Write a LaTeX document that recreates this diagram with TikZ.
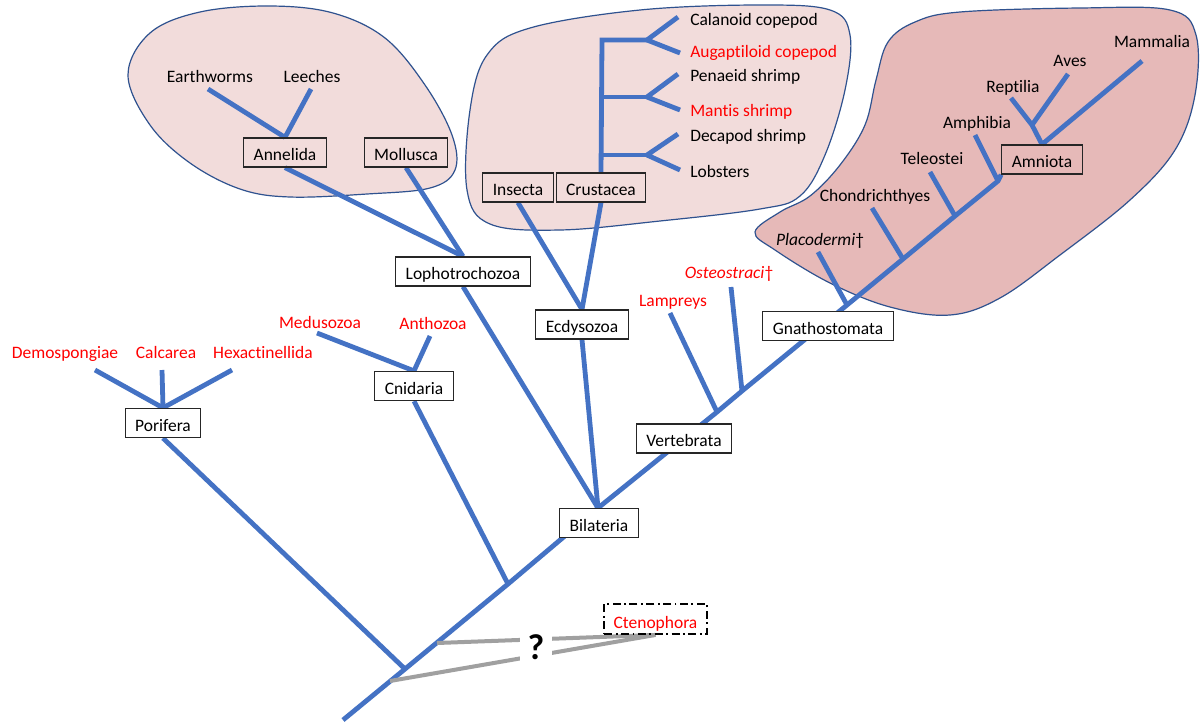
\documentclass[tikz,border=0pt]{standalone}
\usepackage{fontspec}
\setmainfont{Carlito}[Ligatures=NoCommon]
\definecolor{branch}{HTML}{4472C4}
\definecolor{grayline}{HTML}{A0A0A0}
\definecolor{pinklight}{HTML}{F2DCDB}
\definecolor{pinkdark}{HTML}{E6B9B8}
\definecolor{blobline}{HTML}{2F528F}
\definecolor{labred}{HTML}{FF0000}
\pgfdeclarelayer{blobs}
\pgfdeclarelayer{branches}
\pgfsetlayers{blobs,branches,main}
\begin{document}
\begin{tikzpicture}[x=0.75pt,y=-0.75pt,
  every node/.style={font=\fontsize{13.1pt}{15pt}\selectfont},
  br/.style={draw=branch,line width=3.6pt,line join=round},
  gl/.style={draw=grayline,line width=3pt},
  blob/.style={draw=blobline,line width=0.9pt},
  taxon/.style={draw=black!85,line width=0.9pt,inner xsep=7.5pt,inner ysep=0pt,text height=16.9pt,text depth=4.9pt},
  wtaxon/.style={taxon,fill=white},
  lab/.style={anchor=base,inner sep=0pt},
  rlab/.style={lab,text=labred},
  wlab/.style={anchor=base west,inner sep=0pt},
  ctenobox/.style={draw=black,line width=1.4pt,dash pattern=on 6pt off 2.6pt on 1.4pt off 2.6pt,inner xsep=7pt,inner ysep=0pt,text height=18pt,text depth=4.5pt,text=labred},
]
\begin{pgfonlayer}{blobs}
\fill[white] (0,0) rectangle (1200,722);
\end{pgfonlayer}
\useasboundingbox (0,0) rectangle (1200,722);

% ---------- blobs ----------
\begin{pgfonlayer}{blobs}
\draw[blob,fill=pinklight] plot[smooth cycle,tension=0.6] coordinates {
 (128,75) (150,33) (200,12) (270,6) (333,13) (385,38) (425,85) (452,135)
 (455,170) (430,188) (367,194) (290,197) (240,189) (190,163) (150,125)};
\draw[blob,fill=pinklight] plot[smooth cycle,tension=0.6] coordinates {
 (467,190) (470,110) (487,55) (530,28) (640,10) (760,5) (830,10) (850,35)
 (845,90) (825,155) (800,196) (760,209) (660,221) (560,230) (490,224)};
\draw[blob,fill=pinkdark] plot[smooth cycle,tension=0.6] coordinates {
 (755,232) (780,212) (810,196) (840,165) (865,125) (876,80) (888,42) (915,22)
 (960,12) (1080,8) (1170,10) (1196,35) (1195,95) (1175,150) (1130,200)
 (1060,255) (1000,298) (950,315) (890,307) (830,283) (775,250)};
\end{pgfonlayer}

% ---------- junction / tip coordinates ----------
\coordinate (base) at (343,720);
\coordinate (rootj) at (405,669);
\coordinate (gu) at (437,643);
\coordinate (gd) at (390,681);
\coordinate (cnj) at (508,584);
\coordinate (bilj) at (598,508);
\coordinate (vertj) at (717,412);
\coordinate (ostj) at (742,391);
\coordinate (placj) at (847,305);
\coordinate (chonj) at (903,259);
\coordinate (telj) at (955,216);
\coordinate (amphj) at (998,181);

\coordinate (demotip) at (95,370);
\coordinate (calctip) at (162,370);
\coordinate (hexatip) at (232,370);
\coordinate (medtip) at (317,333);
\coordinate (anttip) at (430,336);
\coordinate (earthtip) at (208,89);
\coordinate (leechtip) at (311,89);
\coordinate (c1) at (602,40);
\coordinate (c2) at (602,97);
\coordinate (c3) at (602,155);
\coordinate (f1) at (647,40);
\coordinate (f2) at (647,97);
\coordinate (f3) at (647,155);
\coordinate (t1a) at (678,17);
\coordinate (t1b) at (680,53);
\coordinate (t2a) at (678,74);
\coordinate (t2b) at (680,110);
\coordinate (t3a) at (678,134);
\coordinate (t3b) at (680,170);
\coordinate (lamptip) at (670,313);
\coordinate (osttip) at (731,287);
\coordinate (plactip) at (818,252);
\coordinate (chontip) at (872,208);
\coordinate (teltip) at (930,172);
\coordinate (amphtip) at (975,135);
\coordinate (raj) at (1032,125);
\coordinate (reptip) at (1011,98);
\coordinate (avestip) at (1068,74);
\coordinate (mammtip) at (1142,61);

% ---------- boxes ----------
\node[wtaxon] (porifera) at (163,423) {Porifera};
\node[wtaxon] (cnidaria) at (414,386) {Cnidaria};
\node[wtaxon] (lopho) at (463,271.5) {Lophotrochozoa};
\node[taxon] (annelida) at (285,152.5) {Annelida};
\node[taxon] (mollusca) at (406,152.5) {Mollusca};
\node[wtaxon] (ecdy) at (582,324.5) {Ecdysozoa};
\node[taxon] (insecta) at (518,187.5) {Insecta};
\node[taxon] (crustacea) at (601,187.5) {Crustacea};
\node[wtaxon] (bilateria) at (599,523) {Bilateria};
\node[wtaxon] (vertebrata) at (684,438.5) {Vertebrata};
\node[wtaxon] (gnatho) at (828,326) {Gnathostomata};
\node[taxon] (amniota) at (1042,159.5) {Amniota};
\node[ctenobox] (cteno) at (655.5,619) {Ctenophora};

% ---------- branches ----------
\begin{pgfonlayer}{branches}
\draw[br] (base) -- (rootj) -- (cnj) -- (bilj) -- (vertj) -- (ostj) -- (placj)
  -- (chonj) -- (telj) -- (amphj) -- (amniota.south west);
\draw[br] (porifera.south) -- (rootj);
\draw[br] (demotip) -- (porifera.north);
\draw[br] (calctip) -- (porifera.north);
\draw[br] (hexatip) -- (porifera.north);
\draw[br] (cnidaria.south) -- (cnj);
\draw[br] (medtip) -- (cnidaria.north);
\draw[br] (anttip) -- (cnidaria.north);
\draw[br] (lopho.south) -- (bilj);
\draw[br] (annelida.south) -- (lopho.north);
\draw[br] (mollusca.south) -- (lopho.north);
\draw[br] (earthtip) -- (annelida.north);
\draw[br] (leechtip) -- (annelida.north);
\draw[br] (ecdy.south) -- (bilj);
\draw[br] (insecta.south) -- (ecdy.north);
\draw[br] (crustacea.south) -- (ecdy.north);
\draw[br,line join=miter] (f1) -- (c1) -- (crustacea.north);
\draw[br] (c2) -- (f2);
\draw[br] (c3) -- (f3);
\draw[br] (t1a) -- (f1) -- (t1b);
\draw[br] (t2a) -- (f2) -- (t2b);
\draw[br] (t3a) -- (f3) -- (t3b);
\draw[br] (lamptip) -- (vertj);
\draw[br] (osttip) -- (ostj);
\draw[br] (plactip) -- (placj);
\draw[br] (chontip) -- (chonj);
\draw[br] (teltip) -- (telj);
\draw[br] (amphtip) -- (amphj);
\draw[br] (mammtip) -- (amniota.north);
\draw[br] (reptip) -- (raj) -- (amniota.north);
\draw[br] (avestip) -- (raj);
% uncertain ctenophore placement
\draw[gl] (gu) -- (cteno.south);
\draw[gl] (gd) -- (cteno.south);
\end{pgfonlayer}
\node[fill=white,inner xsep=6pt,inner ysep=1pt,font=\fontsize{27pt}{30pt}\selectfont\bfseries] (q) at (536,647.5) {?};

% ---------- labels ----------
\node[rlab] (demo) at (65,358.5) {Demospongiae};
\node[rlab] (calc) at (166,358.5) {Calcarea};
\node[rlab] (hexa) at (263,358.5) {Hexactinellida};
\node[rlab] (medu) at (320,328.5) {Medusozoa};
\node[rlab] (antho) at (433,329) {Anthozoa};
\node[lab] (earth) at (210,82.5) {Earthworms};
\node[lab] (leech) at (312,82.5) {Leeches};
\node[wlab] (calan) at (690,25) {Calanoid copepod};
\node[wlab,text=labred] (augap) at (690,57.5) {Augaptiloid copepod};
\node[wlab] (penae) at (690,81) {Penaeid shrimp};
\node[wlab,text=labred] (mantis) at (690,116.5) {Mantis shrimp};
\node[wlab] (decap) at (690,141) {Decapod shrimp};
\node[wlab] (lobst) at (690,177) {Lobsters};
\node[rlab] (lamp) at (673,306) {Lampreys};
\node[rlab] (osteo) at (729,278) {\textit{Osteostraci}†};
\node[lab] (placo) at (820,245) {\textit{Placodermi}†};
\node[lab] (chond) at (875,201) {Chondrichthyes};
\node[lab] (teleo) at (932,164) {Teleostei};
\node[lab] (amphi) at (977,128) {Amphibia};
\node[lab] (repti) at (1013,92) {Reptilia};
\node[lab] (aves) at (1070,66) {Aves};
\node[lab] (mamma) at (1152,47) {Mammalia};
\end{tikzpicture}
\end{document}
